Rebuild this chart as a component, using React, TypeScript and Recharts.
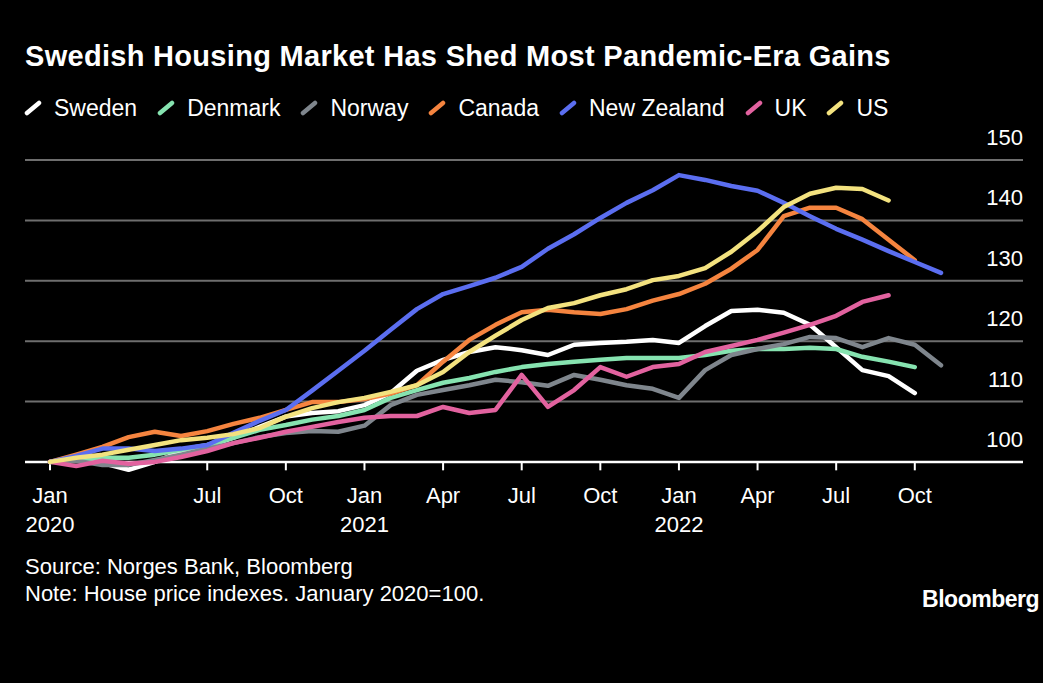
import { LineChart, Line, XAxis, YAxis, ReferenceLine } from 'recharts';

// Monthly house price indexes, Jan 2020 = 100
const months = [
  '2020-01', '2020-02', '2020-03', '2020-04', '2020-05', '2020-06',
  '2020-07', '2020-08', '2020-09', '2020-10', '2020-11', '2020-12',
  '2021-01', '2021-02', '2021-03', '2021-04', '2021-05', '2021-06',
  '2021-07', '2021-08', '2021-09', '2021-10', '2021-11', '2021-12',
  '2022-01', '2022-02', '2022-03', '2022-04', '2022-05', '2022-06',
  '2022-07', '2022-08', '2022-09', '2022-10', '2022-11',
];

const sweden = [
  100, 100.7, 99.8, 98.7, 100, 101.7, 102.5, 104.0, 105.8, 107.5, 108.1, 108.4,
  109.4, 111.4, 115.1, 116.9, 118.2, 119.0, 118.5, 117.7, 119.4, 119.7, 119.9, 120.2,
  119.7, 122.5, 125.0, 125.2, 124.7, 122.7, 119.0, 115.2, 114.2, 111.4,
];

const denmark = [
  100, 100.3, 100.7, 100.7, 101.2, 102.0, 102.8, 104.0, 105.3, 106.1, 107.0, 107.6,
  108.6, 110.6, 111.9, 113.1, 113.9, 114.9, 115.7, 116.2, 116.6, 116.9, 117.2, 117.2,
  117.2, 117.7, 118.4, 118.7, 118.7, 118.9, 118.7, 117.4, 116.6, 115.7,
];

const norway = [
  100, 100.2, 99.5, 99.5, 100.3, 101.2, 102.2, 103.1, 104.1, 104.8, 105.1, 105.0,
  106.0, 109.4, 111.1, 111.9, 112.7, 113.6, 113.2, 112.6, 114.4, 113.6, 112.7, 112.1,
  110.6, 115.2, 117.7, 118.7, 119.5, 120.7, 120.5, 119.0, 120.5, 119.4, 116.0,
];

const canada = [
  100, 101.2, 102.5, 104.1, 105.0, 104.3, 105.1, 106.3, 107.3, 108.6, 109.9, 109.9,
  110.4, 111.3, 112.7, 116.6, 120.2, 122.7, 124.8, 125.2, 124.8, 124.5, 125.3, 126.7,
  127.8, 129.5, 132.0, 135.1, 140.7, 142.1, 142.1, 140.2, 136.8, 133.4,
];

const newZealand = [
  100, 101.0, 102.2, 102.2, 101.8, 102.2, 102.8, 104.8, 106.8, 108.6, 111.8, 115.1,
  118.4, 121.9, 125.3, 127.8, 129.1, 130.5, 132.3, 135.3, 137.7, 140.4, 142.9, 145.0,
  147.5, 146.7, 145.7, 144.9, 142.9, 140.7, 138.6, 136.8, 134.9, 133.1, 131.3,
];

const uk = [
  100, 99.3, 100.2, 99.7, 100, 100.8, 101.8, 103.1, 104.0, 105.0, 105.8, 106.6,
  107.3, 107.6, 107.6, 109.1, 108.1, 108.6, 114.4, 109.1, 111.9, 115.7, 114.1, 115.7,
  116.2, 118.2, 119.2, 120.2, 121.4, 122.7, 124.2, 126.5, 127.6,
];

const us = [
  100, 100.7, 101.2, 102.0, 102.8, 103.6, 104.0, 104.6, 105.6, 107.5, 108.9, 109.9,
  110.6, 111.6, 112.7, 114.9, 118.2, 120.9, 123.5, 125.5, 126.3, 127.6, 128.6, 130.1,
  130.8, 132.1, 134.8, 138.2, 142.2, 144.4, 145.4, 145.2, 143.3,
];

const series = [
  { key: 'sweden', name: 'Sweden', color: '#ffffff', values: sweden },
  { key: 'denmark', name: 'Denmark', color: '#86e3b0', values: denmark },
  { key: 'norway', name: 'Norway', color: '#7f868d', values: norway },
  { key: 'canada', name: 'Canada', color: '#f5843f', values: canada },
  { key: 'newZealand', name: 'New Zealand', color: '#5b6ef0', values: newZealand },
  { key: 'uk', name: 'UK', color: '#e2629f', values: uk },
  { key: 'us', name: 'US', color: '#f3e27f', values: us },
];

const monthNames = ['Jan', 'Feb', 'Mar', 'Apr', 'May', 'Jun', 'Jul', 'Aug', 'Sep', 'Oct', 'Nov', 'Dec'];
const xTicks = [0, 6, 9, 12, 15, 18, 21, 24, 27, 30, 33];
const yTicks = [100, 110, 120, 130, 140, 150];

const FONT = '"Liberation Sans", Arial, Helvetica, sans-serif';

const chartData = months.map((m, i) => {
  const row: Record<string, number | string | undefined> = { idx: i, month: m };
  series.forEach((s) => {
    row[s.key] = s.values[i];
  });
  return row;
});

const XTick = (props: any) => {
  const { x, y, payload } = props;
  const [year, mon] = months[payload.value].split('-');
  const name = monthNames[Number(mon) - 1];
  return (
    <g>
      <text x={x} y={y + 23} textAnchor="middle" fill="#fff" fontSize={22} fontFamily={FONT}>
        {name}
      </text>
      {name === 'Jan' && (
        <text x={x} y={y + 52} textAnchor="middle" fill="#fff" fontSize={22} fontFamily={FONT}>
          {year}
        </text>
      )}
    </g>
  );
};

// labels sit above their gridline, right-aligned to the plot edge
const YTick = (props: any) => {
  const { x, y, payload } = props;
  return (
    <text x={x} y={y - 15} textAnchor="end" fill="#fff" fontSize={22} fontFamily={FONT}>
      {payload.value}
    </text>
  );
};

const LegendIcon = ({ color }: { color: string }) => (
  <svg width={18} height={16} style={{ marginRight: 12 }}>
    <line x1={3} y1={13} x2={15} y2={3} stroke={color} strokeWidth={4.5} strokeLinecap="round" />
  </svg>
);

export default function App() {
  return (
    <div
      style={{
        position: 'fixed',
        left: 0,
        top: 0,
        width: 1043,
        height: 683,
        background: '#000',
        color: '#fff',
        fontFamily: FONT,
        overflow: 'hidden',
      }}
    >
      <div
        style={{
          position: 'absolute',
          left: 25,
          top: 39,
          fontSize: 29,
          lineHeight: '34px',
          fontWeight: 700,
          letterSpacing: 0.3,
          whiteSpace: 'nowrap',
        }}
      >
        Swedish Housing Market Has Shed Most Pandemic-Era Gains
      </div>

      <div
        style={{
          position: 'absolute',
          left: 24,
          top: 94,
          display: 'flex',
          alignItems: 'center',
          fontSize: 23,
          lineHeight: '28px',
          whiteSpace: 'nowrap',
        }}
      >
        {series.map((s) => (
          <div key={s.key} style={{ display: 'flex', alignItems: 'center', marginRight: 20 }}>
            <LegendIcon color={s.color} />
            <span>{s.name}</span>
          </div>
        ))}
      </div>

      <div style={{ position: 'absolute', left: 0, top: 0 }}>
        <LineChart
          width={1043}
          height={683}
          data={chartData}
          margin={{ top: 160, right: 0, bottom: 143, left: 25 }}
        >
          <XAxis
            dataKey="idx"
            type="number"
            domain={[0, 34]}
            ticks={xTicks}
            interval={0}
            padding={{ left: 25, right: 82 }}
            axisLine={false}
            tickLine={false}
            tickSize={0}
            tickMargin={0}
            height={60}
            tick={<XTick />}
          />
          <YAxis
            orientation="right"
            type="number"
            domain={[97, 150]}
            ticks={yTicks}
            interval={0}
            axisLine={false}
            tickLine={false}
            tickSize={0}
            tickMargin={0}
            width={20}
            tick={<YTick />}
          />
          {yTicks.map((t) => (
            <ReferenceLine
              key={`grid-${t}`}
              y={t}
              stroke={t === 100 ? '#ffffff' : '#6e6e6e'}
              strokeWidth={t === 100 ? 2.5 : 2}
            />
          ))}
          {xTicks.map((t) => (
            <ReferenceLine
              key={`tick-${t}`}
              segment={[
                { x: t, y: 100 },
                { x: t, y: 98.6 },
              ]}
              stroke="#ffffff"
              strokeWidth={2}
            />
          ))}
          {series.map((s) => (
            <Line
              key={s.key}
              type="linear"
              dataKey={s.key}
              name={s.name}
              stroke={s.color}
              strokeWidth={4.5}
              strokeLinecap="round"
              strokeLinejoin="round"
              dot={false}
              activeDot={false}
              isAnimationActive={false}
            />
          ))}
        </LineChart>
      </div>

      <div style={{ position: 'absolute', left: 25, top: 553, fontSize: 22, lineHeight: '27px' }}>
        <div>Source: Norges Bank, Bloomberg</div>
        <div>Note: House price indexes. January 2020=100.</div>
      </div>

      <div
        style={{
          position: 'absolute',
          right: 4,
          top: 585,
          fontSize: 23,
          fontWeight: 700,
          letterSpacing: -0.5,
          lineHeight: '28px',
        }}
      >
        Bloomberg
      </div>
    </div>
  );
}
